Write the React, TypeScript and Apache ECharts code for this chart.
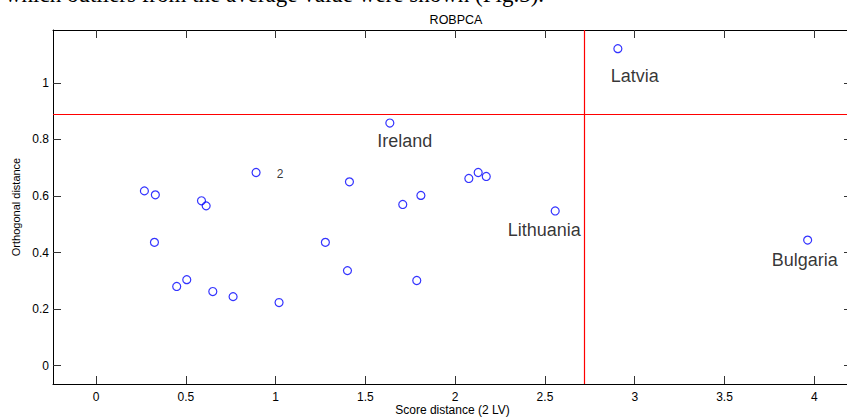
import React, { useEffect, useRef } from "react";
import * as echarts from "echarts";

// Score distance (x) and orthogonal distance (y) for each observation
const scoreDistance = [
  0.269, 0.330, 0.587, 0.613, 0.891, 0.325, 0.449, 0.505, 0.650, 0.763, 1.019,
  1.636, 1.411, 1.708, 1.809, 2.076, 2.128, 2.173, 2.557, 1.277, 1.400, 1.786,
  2.906, 3.963,
];
const orthogonalDistance = [
  0.618, 0.604, 0.583, 0.565, 0.683, 0.436, 0.280, 0.304, 0.262, 0.244, 0.223,
  0.858, 0.650, 0.570, 0.602, 0.662, 0.683, 0.669, 0.547, 0.436, 0.336, 0.301,
  1.121, 0.444,
];
const pointNames = [
  "", "", "", "", "2", "", "", "", "", "", "",
  "Ireland", "", "", "", "", "", "", "Lithuania", "", "", "",
  "Latvia", "Bulgaria",
];

// Cut-off values
const scoreCutoff = 2.72;
const orthogonalCutoff = 0.886;

// Axis ticks
const xTicks = [0, 0.5, 1, 1.5, 2, 2.5, 3, 3.5, 4];
const yTicks = [0, 0.2, 0.4, 0.6, 0.8, 1];
const xRange = [-0.24, 4.21];
const yRange = [-0.065, 1.187];

const titleText = "ROBPCA";
const xName = "Score distance (2 LV)";
const yName = "Orthogonal distance";
const captionText = "which outliers from the average value were shown (Fig.3).";

// label styling (kept apart from data)
const labelStyles: Record<string, { offset: number[]; fontSize: number }> = {
  "2": { offset: [24, 1], fontSize: 12 },
  Ireland: { offset: [15, 18], fontSize: 18 },
  Lithuania: { offset: [-11, 19], fontSize: 18 },
  Latvia: { offset: [17, 27], fontSize: 18 },
  Bulgaria: { offset: [-3, 20], fontSize: 18 },
};

const FONT = "'Liberation Sans', Arial, Helvetica, sans-serif";

const mkAxisLine = () => ({ show: true, onZero: false, lineStyle: { color: "#000", width: 1 } });
const mkTick = (vals: number[]) => ({
  show: true,
  inside: true,
  length: 8,
  customValues: vals,
  lineStyle: { color: "#333", width: 1 },
});

export default function App() {
  const ref = useRef<HTMLDivElement>(null);
  useEffect(() => {
    if (!ref.current) return;
    const chart = echarts.init(ref.current, null, { renderer: "svg" });
    const data = scoreDistance.map((x, i) => {
      const name = pointNames[i];
      const item: any = { value: [x, orthogonalDistance[i]], name };
      if (name) {
        const st = labelStyles[name];
        item.label = {
          show: true,
          formatter: name,
          position: "inside",
          offset: st.offset,
          fontSize: st.fontSize,
          color: "#000",
          fontFamily: FONT,
        };
      }
      return item;
    });
    chart.setOption({
      animation: false,
      backgroundColor: "#fff",
      textStyle: { fontFamily: FONT },
      title: {
        text: titleText,
        left: 451,
        top: 8,
        textAlign: "center",
        textStyle: { fontSize: 12.5, fontWeight: "normal", color: "#000", fontFamily: FONT },
      },
      graphic: [
        {
          type: "text",
          left: 5,
          top: -17,
          style: {
            text: captionText,
            font: "23px 'Liberation Serif', 'Times New Roman', serif",
            fill: "#000",
          },
        },
      ],
      grid: { left: 53, top: 30, width: 799, height: 354, containLabel: false, outerBoundsMode: "none" },
      xAxis: [
        {
          type: "value",
          position: "bottom",
          min: xRange[0],
          max: xRange[1],
          name: xName,
          nameLocation: "middle",
          nameGap: 20,
          nameMoveOverlap: false,
          nameTextStyle: { fontSize: 12, color: "#000", fontFamily: FONT },
          axisLine: mkAxisLine(),
          axisTick: mkTick(xTicks),
          axisLabel: { customValues: xTicks, fontSize: 12, color: "#000", margin: 7, fontFamily: FONT },
          splitLine: { show: false },
        },
        {
          type: "value",
          position: "top",
          min: xRange[0],
          max: xRange[1],
          axisLine: mkAxisLine(),
          axisTick: mkTick(xTicks),
          axisLabel: { show: false },
          splitLine: { show: false },
        },
      ],
      yAxis: [
        {
          type: "value",
          position: "left",
          min: yRange[0],
          max: yRange[1],
          name: yName,
          nameLocation: "middle",
          nameGap: 28,
          nameTextStyle: { fontSize: 11, color: "#000", fontFamily: FONT },
          axisLine: mkAxisLine(),
          axisTick: mkTick(yTicks),
          axisLabel: { customValues: yTicks, fontSize: 12, color: "#000", margin: 4, fontFamily: FONT },
          splitLine: { show: false },
        },
        {
          type: "value",
          position: "right",
          min: yRange[0],
          max: yRange[1],
          axisLine: mkAxisLine(),
          axisTick: mkTick(yTicks),
          axisLabel: { show: false },
          splitLine: { show: false },
        },
      ],
      series: [
        {
          type: "scatter",
          xAxisIndex: 0,
          yAxisIndex: 0,
          symbol: "circle",
          symbolSize: 8,
          itemStyle: { color: "rgba(0,0,0,0)", borderColor: "#0000ff", borderWidth: 1.2 },
          label: { show: false },
          data,
          markLine: {
            silent: true,
            symbol: "none",
            z: 10,
            label: { show: false },
            lineStyle: { color: "#ff0000", width: 1.2, type: "solid", opacity: 1 },
            data: [
              { xAxis: scoreCutoff, lineStyle: { color: "#ff0000" } },
              { yAxis: orthogonalCutoff, lineStyle: { color: "#ff0000" } },
            ],
          },
        },
      ],
    });
    return () => chart.dispose();
  }, []);
  return (
    <div
      ref={ref}
      style={{ position: "absolute", left: 0, top: 0, width: 847, height: 417 }}
    />
  );
}
